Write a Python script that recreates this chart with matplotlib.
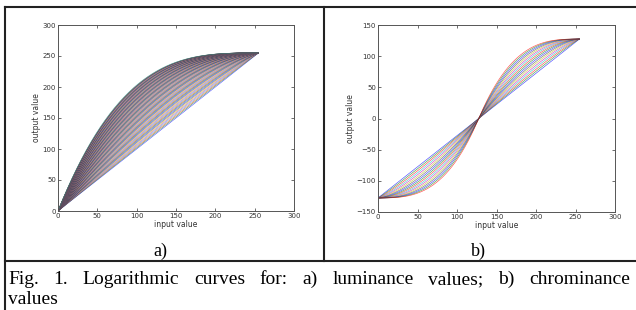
import numpy as np
import matplotlib
matplotlib.use("Agg")
import matplotlib.pyplot as plt
from matplotlib.lines import Line2D

# ---------------- data ----------------
# input grey levels (0..255)
input_values = np.arange(0, 256)
# left panel: family of luminance curves, curvature parameter of each curve
lum_strengths = np.linspace(1.0, 3.2, 95)
# right panel: family of chrominance curves
chroma_strengths = np.geomspace(1.0, 3.0, 17)

xticks = [0, 50, 100, 150, 200, 250, 300]
lum_yticks = [0, 50, 100, 150, 200, 250, 300]
chroma_yticks = [-150, -100, -50, 0, 50, 100, 150]
panel_labels = ["a)", "b)"]
caption_line1 = "Fig. 1. Logarithmic curves for: a) luminance values; b) chrominance"
caption_line2 = "values"

# MATLAB (classic) colour order
matlab_colors = [(0, 0, 1), (0, 0.5, 0), (1, 0, 0), (0, 0.75, 0.75),
                 (0.75, 0, 0.75), (0.75, 0.75, 0), (0.25, 0.25, 0.25)]

W, H = 636, 310
fig = plt.figure(figsize=(W / 100, H / 100), dpi=100)
fig.patch.set_facecolor("white")


def px_ax(l, t, r, b):
    return [l / W, 1 - b / H, (r - l) / W, (b - t) / H]


def style(ax, yticks, ylim):
    ax.set_xlim(0, 300)
    ax.set_ylim(*ylim)
    ax.set_xticks(xticks)
    ax.set_yticks(yticks)
    ax.tick_params(direction="in", length=2, width=0.5, labelsize=5,
                   colors="#333333", top=True, right=True, pad=1.5)
    for s in ax.spines.values():
        s.set_color("#555555")
        s.set_linewidth(0.7)
    ax.set_xlabel("input value", fontsize=5.5, color="#333333", labelpad=1)
    ax.set_ylabel("output value", fontsize=5.5, color="#333333", labelpad=1)


# left: luminance
ax1 = fig.add_axes(px_ax(58, 25, 294, 211))
t = input_values / 255.0
for i, k in enumerate(lum_strengths):
    y = 255 * (1 - (1 - t) ** k)
    ax1.plot(input_values, y, color=matlab_colors[i % 7], lw=0.4, alpha=0.7)
style(ax1, lum_yticks, (0, 300))

# right: chrominance
ax2 = fig.add_axes(px_ax(378, 25, 615, 212))
u = (input_values - 127.5) / 127.5
for i, k in enumerate(chroma_strengths):
    y = 127.5 * np.sign(u) * (1 - (1 - np.abs(u)) ** k)
    ax2.plot(input_values, y, color=matlab_colors[i % 7], lw=0.45, alpha=0.7)
style(ax2, chroma_yticks, (-150, 150))

# table lines
lw = 1.5
def hline(y, x0, x1):
    fig.add_artist(Line2D([x0 / W, x1 / W], [1 - y / H, 1 - y / H],
                          color="#222222", lw=lw, transform=fig.transFigure))
def vline(x, y0, y1):
    fig.add_artist(Line2D([x / W, x / W], [1 - y0 / H, 1 - y1 / H],
                          color="#222222", lw=lw, transform=fig.transFigure))

hline(6.5, 4.5, W)
hline(261, 4.5, W)
vline(4.5, 6.5, H)
vline(323.5, 6.5, 261)

serif = ["Liberation Serif", "DejaVu Serif"]
fig.text(160 / W, 1 - 256 / H, panel_labels[0], ha="center", va="baseline",
         fontsize=13, family=serif)
fig.text(478 / W, 1 - 256 / H, panel_labels[1], ha="center", va="baseline",
         fontsize=13, family=serif)

# justified caption line
renderer = fig.canvas.get_renderer()
words = caption_line1.split(" ")
x0, x1 = 8.0, 630.0
base1 = 1 - 284 / H
arts = []
widths = []
for w in words:
    ta = fig.text(0, base1, w, fontsize=14, family=serif, va="baseline")
    bb = ta.get_window_extent(renderer=renderer)
    arts.append(ta)
    widths.append(bb.width)
gap = (x1 - x0 - sum(widths)) / (len(words) - 1)
x = x0
for ta, wd in zip(arts, widths):
    ta.set_x(x / W)
    x += wd + gap
fig.text(x0 / W, 1 - 304 / H, caption_line2, fontsize=14, family=serif,
         va="baseline")

fig.savefig("out.png", dpi=100)
